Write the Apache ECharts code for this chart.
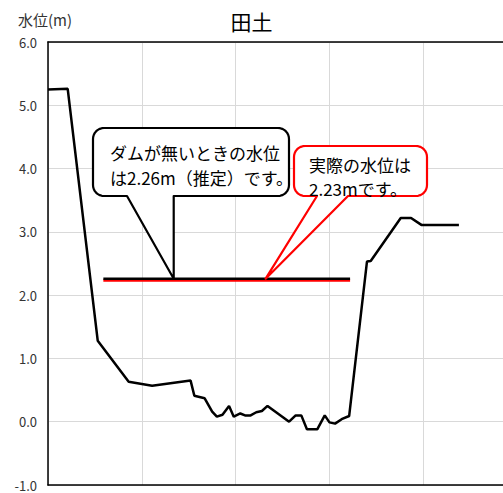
<!DOCTYPE html>
<html>
<head>
<meta charset="utf-8">
<script src="https://cdn.jsdelivr.net/npm/echarts@6/dist/echarts.min.js"></script>
<style>
  html, body { margin: 0; padding: 0; background: #fff; }
  #chart { width: 503px; height: 493px; }
</style>
</head>
<body>
<div id="chart"></div>
<script>
// 横断面（距離は目盛1つ=10として読み取り）
const profileX = [0, 2.1, 5.3, 8.6, 11.1, 15.2, 15.6, 16.7, 17.5, 18.0, 18.6, 19.3, 19.8, 20.5, 21.0, 21.6, 22.2, 22.8, 23.4, 25.7, 26.4, 27.0, 27.6, 28.7, 29.5, 30.0, 30.6, 31.3, 32.1, 34.0, 34.4, 37.6, 38.7, 39.8, 43.8];
const profileY = [5.25, 5.26, 1.28, 0.63, 0.57, 0.65, 0.41, 0.37, 0.16, 0.08, 0.11, 0.25, 0.08, 0.13, 0.10, 0.10, 0.15, 0.17, 0.25, 0.00, 0.10, 0.10, -0.12, -0.12, 0.10, -0.01, -0.03, 0.04, 0.09, 2.53, 2.54, 3.22, 3.22, 3.11, 3.11];

// 水位線
const levelX = [5.9, 32.2];
const noDamLevel = 2.26;
const actualLevel = 2.23;

// 吹き出しの先端が指す位置
const noDamTipX = 13.4;
const actualTipX = 23.2;

const noDamText = ['ダムが無いときの水位', 'は2.26m（推定）です。'];
const actualText = ['実際の水位は', '2.23mです。'];

const FONT = '"Noto Sans CJK JP", "Noto Sans", sans-serif';

const chart = echarts.init(document.getElementById('chart'), null, { renderer: 'svg' });

const option = {
    animation: false,
    backgroundColor: '#fff',
    title: {
        text: '田土',
        left: 'center',
        top: 5,
        textStyle: { fontSize: 21, fontWeight: 'normal', color: '#000', fontFamily: FONT }
    },
    grid: { left: 48, top: 42, right: 0, bottom: 8 },
    // 右端は目盛の途中で切れている
    xAxis: [
        {
            type: 'value', min: 0, max: 48.5, interval: 10,
            axisLine: { show: true, onZero: false, lineStyle: { color: '#000', width: 1.5 } },
            axisTick: { show: false },
            axisLabel: { show: false },
            splitLine: { show: true, lineStyle: { color: '#d9d9d9', width: 1 } }
        },
        {
            type: 'value', min: 0, max: 48.5, position: 'top',
            axisLine: { show: true, onZero: false, lineStyle: { color: '#000', width: 1.5 } },
            axisTick: { show: false },
            axisLabel: { show: false },
            splitLine: { show: false }
        }
    ],
    yAxis: {
        type: 'value', min: -1, max: 6, interval: 1,
        name: '水位(m)',
        nameLocation: 'end',
        nameGap: 15,
        nameTextStyle: { fontSize: 15, color: '#333', fontFamily: FONT, padding: [0, 6, 0, 0] },
        axisLine: { show: true, onZero: false, lineStyle: { color: '#000', width: 1.5 } },
        axisTick: { show: false },
        axisLabel: {
            margin: 11, fontSize: 13, color: '#333', fontFamily: FONT,
            formatter: v => v.toFixed(1)
        },
        splitLine: { show: true, lineStyle: { color: '#d9d9d9', width: 1 } }
    },
    series: [
        {
            type: 'line', name: '断面',
            data: profileX.map((x, i) => [x, profileY[i]]),
            symbol: 'none',
            lineStyle: { color: '#000', width: 2.5 },
            z: 3
        },
        {
            type: 'line', name: '実際の水位',
            data: levelX.map(x => [x, actualLevel]),
            symbol: 'none',
            lineStyle: { color: '#ff0000', width: 2.5 },
            z: 3
        },
        {
            type: 'line', name: 'ダムが無いときの水位',
            data: levelX.map(x => [x, noDamLevel]),
            symbol: 'none',
            lineStyle: { color: '#000', width: 2.5 },
            z: 4
        }
    ]
};
chart.setOption(option);

// 角丸の吹き出し形状を多角形の点列で作る
function calloutPoints(x0, y0, x1, y1, r, baseL, baseR, tip) {
    const pts = [];
    const arc = (cx, cy, a0, a1) => {
        for (let i = 0; i <= 8; i++) {
            const a = (a0 + (a1 - a0) * i / 8) * Math.PI / 180;
            pts.push([cx + r * Math.cos(a), cy + r * Math.sin(a)]);
        }
    };
    arc(x0 + r, y0 + r, 180, 270);
    arc(x1 - r, y0 + r, 270, 360);
    arc(x1 - r, y1 - r, 0, 90);
    pts.push([baseR, y1], tip, [baseL, y1]);
    arc(x0 + r, y1 - r, 90, 180);
    return pts;
}

function callout(box, baseL, baseR, tip, color, lines, textX, lineYs) {
    const els = [{
        type: 'polygon',
        shape: { points: calloutPoints(box[0], box[1], box[2], box[3], 11, baseL, baseR, tip) },
        style: { fill: '#fff', stroke: color, lineWidth: 2.2, lineJoin: 'round' },
        z: 100
    }];
    lines.forEach((t, i) => {
        els.push({
            type: 'text', x: textX, y: lineYs[i],
            style: { text: t, fill: '#000', font: '17px ' + FONT, textAlign: 'left', textVerticalAlign: 'middle' },
            z: 101
        });
    });
    return els;
}

const noDamTip = chart.convertToPixel({ xAxisIndex: 0, yAxisIndex: 0 }, [noDamTipX, noDamLevel]);
const actualTip = chart.convertToPixel({ xAxisIndex: 0, yAxisIndex: 0 }, [actualTipX, noDamLevel]);

chart.setOption({
    graphic: [
        ...callout([93, 128, 289, 196], 127, noDamTip[0], noDamTip, '#000', noDamText, 110, [152, 177]),
        ...callout([294, 146, 427, 196], 317, 348, actualTip, '#ff0000', actualText, 309, [164, 188])
    ]
});
</script>
</body>
</html>
